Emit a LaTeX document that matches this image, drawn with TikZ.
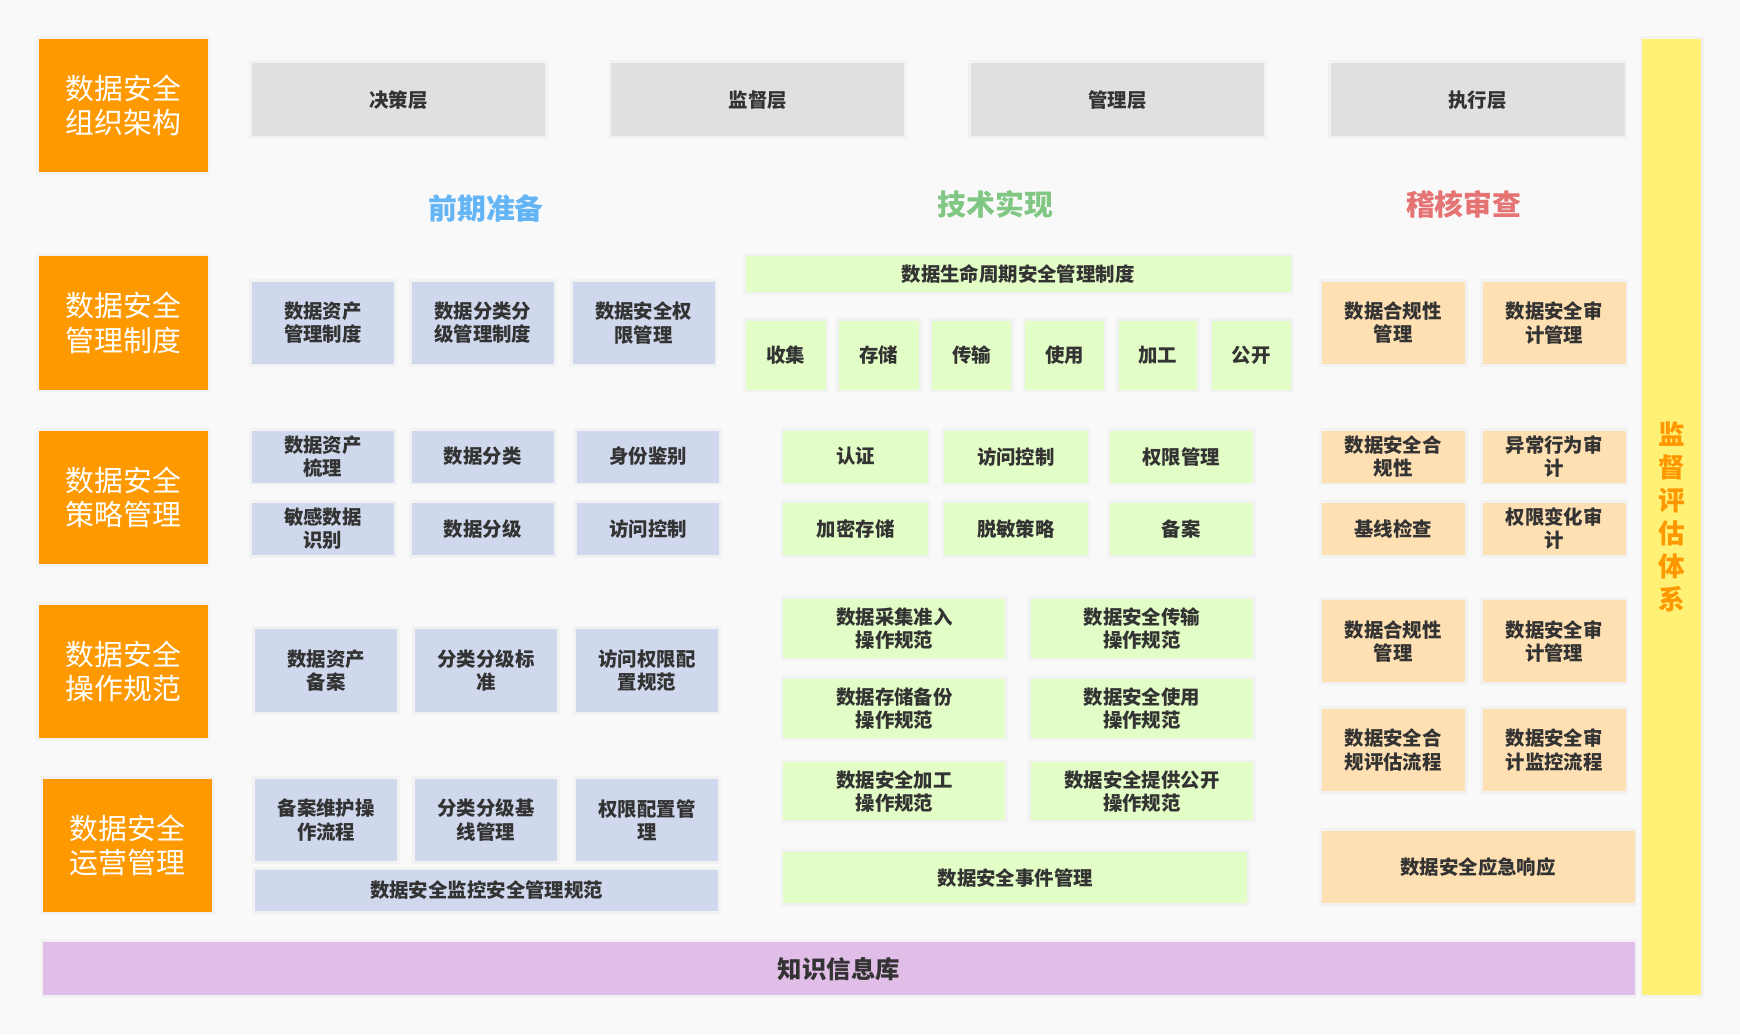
\documentclass[tikz,border=0pt]{standalone}
\usepackage{fontspec}
\setmainfont{Noto Sans CJK SC}
\definecolor{bg}{HTML}{F9F9F9}
\definecolor{halo}{HTML}{F2F2F2}
\definecolor{org}{HTML}{FF9900}
\definecolor{grayb}{HTML}{E0E0E0}
\definecolor{blueb}{HTML}{CFD8EC}
\definecolor{greenb}{HTML}{E3FDC6}
\definecolor{peach}{HTML}{FFE0B2}
\definecolor{purp}{HTML}{E1BEE7}
\definecolor{yel}{HTML}{FFF176}
\definecolor{txt}{HTML}{333333}
\definecolor{tblue}{HTML}{64B5F6}
\definecolor{tgreen}{HTML}{81C784}
\definecolor{tred}{HTML}{E57373}
\definecolor{vorg}{HTML}{FF9800}
\newcommand\mybox[7]{%
  \pgfmathsetmacro\bcx{(#3+#5)/2}%
  \pgfmathsetmacro\bcy{(#4+#6)/2}%
  \pgfmathsetmacro\bw{#5-#3}%
  \pgfmathsetmacro\bh{#6-#4}%
  \node[#2,minimum width=\bw pt,minimum height=\bh pt] (#1) at (\bcx,\bcy) {#7};}
\begin{document}
\begin{tikzpicture}[x=1pt,y=-1pt,
  base/.style={inner sep=0pt,outer sep=0pt,align=center,text=txt,
    preaction={draw=halo,line width=5pt},
    font=\bfseries\fontsize{17.5}{21}\selectfont},
  orangebox/.style={base,fill=org,text=white,font=\fontsize{26}{31}\selectfont},
  graybox/.style={base,fill=grayb},
  bluebox/.style={base,fill=blueb},
  greenbox/.style={base,fill=greenb},
  peachbox/.style={base,fill=peach},
  titlebox/.style={inner sep=0pt,font=\bfseries\fontsize{26}{31}\selectfont},
]
\useasboundingbox (0,0) rectangle (1568,933);
\fill[bg] (0,0) rectangle (1568,933);

% left column
\mybox{o1}{orangebox}{35}{35}{187}{155}{数据安全\\组织架构}
\mybox{o2}{orangebox}{35}{231}{187}{351}{数据安全\\管理制度}
\mybox{o3}{orangebox}{35}{388}{187}{508}{数据安全\\策略管理}
\mybox{o4}{orangebox}{35}{545}{187}{665}{数据安全\\操作规范}
\mybox{o5}{orangebox}{39}{702}{191}{822}{数据安全\\运营管理}

% top layers
\mybox{g1}{graybox}{227}{57}{491}{123}{决策层}
\mybox{g2}{graybox}{551}{57}{815}{123}{监督层}
\mybox{g3}{graybox}{875}{57}{1139}{123}{管理层}
\mybox{g4}{graybox}{1199}{57}{1464}{123}{执行层}

% titles
\node[titlebox,text=tblue] (t1) at (438,188) {前期准备};
\node[titlebox,text=tgreen] (t2) at (897,184) {技术实现};
\node[titlebox,text=tred] (t3) at (1319,184) {稽核审查};

% blue column
\mybox{b11}{bluebox}{227}{254}{355}{328}{数据资产\\管理制度}
\mybox{b12}{bluebox}{371}{254}{499}{328}{数据分类分\\级管理制度}
\mybox{b13}{bluebox}{516}{254}{644}{328}{数据安全权\\限管理}
\mybox{b21}{bluebox}{227}{388}{355}{435}{数据资产\\梳理}
\mybox{b22}{bluebox}{371}{388}{499}{435}{数据分类}
\mybox{b23}{bluebox}{520}{388}{648}{435}{身份鉴别}
\mybox{b31}{bluebox}{227}{453}{355}{500}{敏感数据\\识别}
\mybox{b32}{bluebox}{371}{453}{499}{500}{数据分级}
\mybox{b33}{bluebox}{520}{453}{648}{500}{访问控制}
\mybox{b41}{bluebox}{230}{567}{358}{642}{数据资产\\备案}
\mybox{b42}{bluebox}{374}{567}{502}{642}{分类分级标\\准}
\mybox{b43}{bluebox}{519}{567}{647}{642}{访问权限配\\置规范}
\mybox{b51}{bluebox}{230}{702}{358}{776}{备案维护操\\作流程}
\mybox{b52}{bluebox}{374}{702}{502}{776}{分类分级基\\线管理}
\mybox{b53}{bluebox}{519}{702}{647}{776}{权限配置管\\理}
\mybox{b6}{bluebox}{230}{784}{647}{821}{数据安全监控安全管理规范}

% green column
\mybox{gr0}{greenbox}{672}{231}{1163}{263}{数据生命周期安全管理制度}
\mybox{gr1}{greenbox}{672}{289}{744}{351}{收集}
\mybox{gr2}{greenbox}{756}{289}{828}{351}{存储}
\mybox{gr3}{greenbox}{840}{289}{911}{351}{传输}
\mybox{gr4}{greenbox}{924}{289}{995}{351}{使用}
\mybox{gr5}{greenbox}{1008}{289}{1079}{351}{加工}
\mybox{gr6}{greenbox}{1092}{289}{1163}{351}{公开}
\mybox{gr21}{greenbox}{706}{388}{836}{435}{认证}
\mybox{gr22}{greenbox}{851}{388}{980}{435}{访问控制}
\mybox{gr23}{greenbox}{1000}{388}{1129}{435}{权限管理}
\mybox{gr31}{greenbox}{706}{453}{836}{500}{加密存储}
\mybox{gr32}{greenbox}{851}{453}{980}{500}{脱敏策略}
\mybox{gr33}{greenbox}{1000}{453}{1129}{500}{备案}
\mybox{gr41}{greenbox}{706}{540}{906}{593}{数据采集准入\\操作规范}
\mybox{gr42}{greenbox}{929}{540}{1129}{593}{数据安全传输\\操作规范}
\mybox{gr51}{greenbox}{706}{612}{906}{665}{数据存储备份\\操作规范}
\mybox{gr52}{greenbox}{929}{612}{1129}{665}{数据安全使用\\操作规范}
\mybox{gr61}{greenbox}{706}{687}{906}{739}{数据安全加工\\操作规范}
\mybox{gr62}{greenbox}{929}{687}{1129}{739}{数据安全提供公开\\操作规范}
\mybox{gr7}{greenbox}{706}{768}{1124}{814}{数据安全事件管理}

% peach column
\mybox{p11}{peachbox}{1191}{254}{1320}{328}{数据合规性\\管理}
\mybox{p12}{peachbox}{1336}{254}{1465}{328}{数据安全审\\计管理}
\mybox{p21}{peachbox}{1191}{388}{1320}{435}{数据安全合\\规性}
\mybox{p22}{peachbox}{1336}{388}{1465}{435}{异常行为审\\计}
\mybox{p31}{peachbox}{1191}{453}{1320}{500}{基线检查}
\mybox{p32}{peachbox}{1336}{453}{1465}{500}{权限变化审\\计}
\mybox{p41}{peachbox}{1191}{541}{1320}{615}{数据合规性\\管理}
\mybox{p42}{peachbox}{1336}{541}{1465}{615}{数据安全审\\计管理}
\mybox{p51}{peachbox}{1191}{639}{1320}{713}{数据安全合\\规评估流程}
\mybox{p52}{peachbox}{1336}{639}{1465}{713}{数据安全审\\计监控流程}
\mybox{p6}{peachbox}{1191}{749}{1473}{814}{数据安全应急响应}

% bottom knowledge base
\mybox{kb}{base,fill=purp,font=\bfseries\fontsize{22}{26}\selectfont}{39}{849}{1473}{897}{知识信息库}

% right vertical bar
\mybox{ys}{base,fill=yel,text=vorg,font=\bfseries\fontsize{24}{29.8}\selectfont}{1480}{35}{1533}{897}{监\\督\\评\\估\\体\\系}
\end{tikzpicture}
\end{document}
